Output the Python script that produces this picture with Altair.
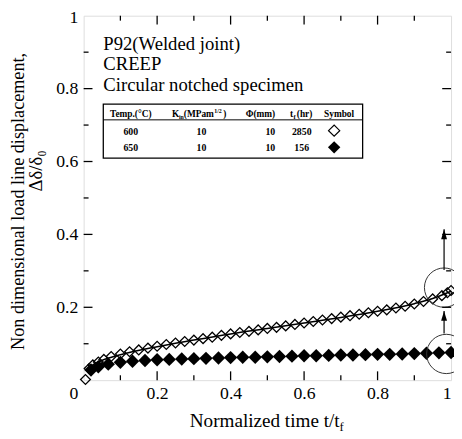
import altair as alt
import pandas as pd

# ---------------- data ----------------
x_600 = [0.005, 0.015, 0.025, 0.04, 0.055, 0.075, 0.1, 0.125, 0.15, 0.175, 0.2, 0.225, 0.25,
         0.275, 0.3, 0.325, 0.35, 0.375, 0.4, 0.425, 0.45, 0.475, 0.5, 0.525, 0.55, 0.575,
         0.6, 0.625, 0.65, 0.675, 0.7, 0.725, 0.75, 0.775, 0.8, 0.825, 0.85, 0.875, 0.9,
         0.925, 0.95, 0.975, 0.99, 1.0]
y_600 = [0.002, 0.032, 0.042, 0.05, 0.057, 0.065, 0.072, 0.078, 0.083, 0.088, 0.093, 0.098, 0.102,
         0.106, 0.11, 0.114, 0.118, 0.123, 0.127, 0.131, 0.134, 0.138, 0.142, 0.145, 0.149, 0.153,
         0.157, 0.161, 0.165, 0.169, 0.173, 0.177, 0.181, 0.185, 0.189, 0.193, 0.198, 0.203, 0.209,
         0.216, 0.223, 0.232, 0.240, 0.246]

x_fit = [0.01, 0.03, 0.06, 0.1, 0.2, 0.3, 0.4, 0.5, 0.6, 0.7, 0.8, 0.9, 0.95, 1.0]
y_fit = [0.03, 0.045, 0.058, 0.07, 0.092, 0.11, 0.127, 0.142, 0.157, 0.172, 0.189, 0.21, 0.224, 0.244]

x_650 = [0.02, 0.04, 0.067, 0.1, 0.133, 0.167, 0.2, 0.233, 0.267, 0.3, 0.333, 0.367, 0.4, 0.433,
         0.467, 0.5, 0.533, 0.567, 0.6, 0.633, 0.667, 0.7, 0.733, 0.767, 0.8, 0.833, 0.867, 0.9,
         0.933, 0.967, 1.0]
y_650 = [0.028, 0.037, 0.044, 0.049, 0.052, 0.054, 0.056, 0.057, 0.058, 0.059, 0.060, 0.061, 0.062,
         0.063, 0.063, 0.064, 0.065, 0.066, 0.067, 0.067, 0.068, 0.069, 0.069, 0.070, 0.071, 0.071,
         0.072, 0.073, 0.074, 0.075, 0.076]

circle_x = [0.981, 0.987]
circle_y = [0.254, 0.072]

arrow_x = [0.981, 0.981]
arrow_base = [0.302, 0.128]
arrow_tip = [0.414, 0.19]

major_ticks = [0.2, 0.4, 0.6, 0.8]
minor_ticks = [0.1, 0.3, 0.5, 0.7, 0.9]
label_values = [0.2, 0.4, 0.6, 0.8, 1.0]

table_rows = [["600", "10", "10", "2850"], ["650", "10", "10", "156"]]

W, H = 374, 371
SERIF = "Liberation Serif"

df600 = pd.DataFrame({"t": x_600, "d": y_600})
dffit = pd.DataFrame({"t": x_fit, "d": y_fit})
df650 = pd.DataFrame({"t": x_650, "d": y_650})
dfc = pd.DataFrame({"t": circle_x, "d": circle_y})
dfa = pd.DataFrame({"t": arrow_x, "d": arrow_base, "d2": arrow_tip})
dummy = pd.DataFrame({"a": [0]})

label_expr = "datum.value == 1 ? '1' : format(datum.value, '.1f')"
xscale = alt.Scale(domain=[0, 1], nice=False, zero=False)
yscale = alt.Scale(domain=[0, 1], nice=False, zero=False)

X = alt.X("t:Q", scale=xscale,
          axis=alt.Axis(values=label_values, labelExpr=label_expr, title=None, ticks=False,
                        domain=False, grid=False, labelFont=SERIF, labelFontSize=18,
                        labelColor="black", labelPadding=5))
Y = alt.Y("d:Q", scale=yscale,
          axis=alt.Axis(values=label_values, labelExpr=label_expr, title=None, ticks=False,
                        domain=False, grid=False, labelFont=SERIF, labelFontSize=18,
                        labelColor="black", labelPadding=6,
                        labelOffset={"condition": {"test": "datum.value == 1", "value": 2},
                                     "value": 0}))

open_pts = alt.Chart(df600).mark_point(shape="diamond", filled=False, stroke="black",
                                       strokeWidth=1.3, size=100, opacity=1).encode(x=X, y=Y)
fit_line = alt.Chart(dffit).mark_line(color="black", strokeWidth=1.6,
                                      interpolate="monotone").encode(x="t:Q", y="d:Q")
filled_pts = alt.Chart(df650).mark_point(shape="diamond", filled=True, color="black",
                                         size=185, opacity=1).encode(x="t:Q", y="d:Q")
circles = alt.Chart(dfc).mark_point(shape="circle", filled=False, stroke="#333333",
                                    strokeWidth=1, size=1600, opacity=1).encode(x="t:Q", y="d:Q")
shafts = alt.Chart(dfa).mark_rule(color="black", strokeWidth=1.2).encode(
    x="t:Q", y="d:Q", y2="d2:Q")
heads = alt.Chart(dfa).mark_point(shape="M0,-1L-0.6,1L0.6,1Z", filled=True, color="black",
                                  size=100, opacity=1, yOffset=5).encode(x="t:Q", y="d2:Q")

# inward ticks on all four sides
tick_layers = []
for vals, ln in ((major_ticks, 9), (minor_ticks, 5)):
    tdf = pd.DataFrame({"v": vals})
    tick_layers.append(alt.Chart(tdf).mark_rule(color="black", strokeWidth=1.3).encode(
        x="v:Q", y=alt.value(H), y2=alt.value(H - ln)))
    tick_layers.append(alt.Chart(tdf).mark_rule(color="black", strokeWidth=1.3).encode(
        x="v:Q", y=alt.value(0), y2=alt.value(ln)))
    tick_layers.append(alt.Chart(tdf).mark_rule(color="black", strokeWidth=1.3).encode(
        y="v:Q", x=alt.value(0), x2=alt.value(ln)))
    tick_layers.append(alt.Chart(tdf).mark_rule(color="black", strokeWidth=1.3).encode(
        y="v:Q", x=alt.value(W), x2=alt.value(W - ln)))


def txt(s, px, py, size, align="left", baseline="alphabetic", angle=0, weight="normal"):
    return alt.Chart(dummy).mark_text(
        text=s, font=SERIF, fontSize=size, align=align, baseline=baseline, angle=angle,
        fontWeight=weight, color="black").encode(x=alt.value(px), y=alt.value(py))


texts = [
    txt("P92(Welded joint)", 20, 35, 19),
    txt("CREEP", 20, 55, 19),
    txt("Circular notched specimen", 20, 77, 19),
    # corner zero
    txt("0", -10, 390, 18, align="center"),
    # x title
    txt("Normalized time t/t", 108, 419, 19.5),
    txt("f", 260.5, 423, 13),
    # y title
    txt("Non dimensional load line displacement,", -61, 189, 18.5, align="center",
        baseline="alphabetic", angle=270),
    txt("Δδ/δ₀", -42, 158, 19, align="center", baseline="alphabetic", angle=270),
]

# table
tb = 9.5
table_parts = [
    alt.Chart(dummy).mark_rect(fill="white", stroke="black", strokeWidth=1.3).encode(
        x=alt.value(20), x2=alt.value(284), y=alt.value(90), y2=alt.value(145)),
    alt.Chart(dummy).mark_rule(color="black", strokeWidth=1).encode(
        x=alt.value(20), x2=alt.value(284), y=alt.value(106)),
    txt("Temp.(°C)", 48, 103, tb, align="center", weight="bold"),
    txt("K", 90, 103, tb, weight="bold"),
    txt("in", 97, 105.5, 6, weight="bold"),
    txt("(MPam", 102, 103, tb, weight="bold"),
    txt("1/2", 133, 99, 6, weight="bold"),
    txt(")", 142, 103, tb, weight="bold"),
    txt("Φ(mm)", 180, 103, tb, align="center", weight="bold"),
    txt("t", 210, 103, tb, weight="bold"),
    txt("f", 213.5, 105.5, 6.5, weight="bold"),
    txt("(hr)", 217, 103, tb, weight="bold"),
    txt("Symbol", 260, 103, tb, align="center", weight="bold"),
]
col_x = [48, 120, 190, 222]
row_y = [121, 138]
for r, row in enumerate(table_rows):
    for c, val in enumerate(row):
        table_parts.append(txt(val, col_x[c], row_y[r], 10, align="center", weight="bold"))
table_parts.append(alt.Chart(dummy).mark_point(shape="diamond", filled=False, stroke="black",
                                               strokeWidth=1.2, size=130, opacity=1).encode(
    x=alt.value(255), y=alt.value(117)))
table_parts.append(alt.Chart(dummy).mark_point(shape="diamond", filled=True, color="black",
                                               size=160, opacity=1).encode(
    x=alt.value(255), y=alt.value(134)))

chart = alt.layer(
    open_pts, fit_line, filled_pts, circles, shafts, heads, *tick_layers, *texts, *table_parts
).properties(
    width=W, height=H,
    padding={"left": 77, "top": 4, "right": 3, "bottom": 56},
    autosize=alt.AutoSizeParams(type="none"),
).configure_view(stroke="black", strokeWidth=1.6).configure_axis(
    labelFont=SERIF, labelFontSize=18, labelColor="black"
).configure(background="white", font=SERIF)

chart.save("out.html", embed_options={"renderer": "svg", "actions": False})
